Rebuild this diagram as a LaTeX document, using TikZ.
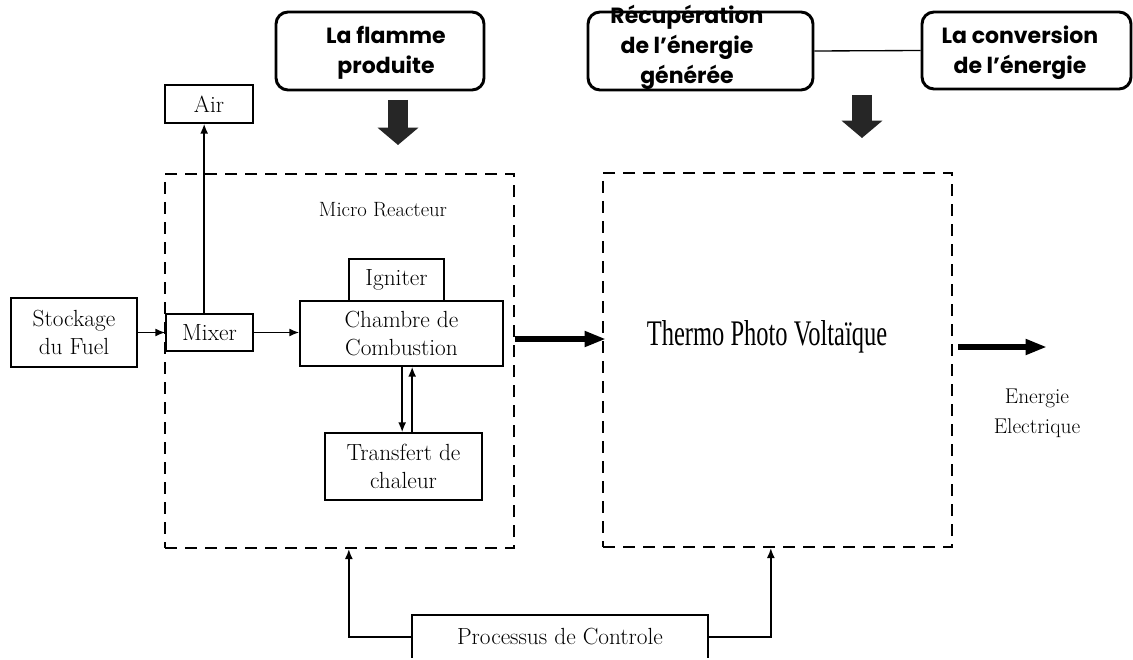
\documentclass[tikz,border=0pt]{standalone}
\usepackage{fontspec}
\usetikzlibrary{arrows.meta,calc}
\newfontfamily\geofont{Poppins}
\newfontfamily\tpvfont{Liberation Serif}
\tikzset{
  sbox/.style={draw, line width=1pt, align=center, inner sep=0pt,
    font=\fontsize{17.5}{21.5}\selectfont},
  rbox/.style={draw, line width=2.2pt, rounded corners=9pt, inner sep=0pt},
  rtext/.style={align=center, font=\geofont\bfseries\fontsize{16.5}{22.5}\selectfont},
  dbox/.style={draw, line width=1.5pt, dash pattern=on 9pt off 6pt, inner sep=0pt},
  arr/.style={line width=1.3pt, -{Latex[length=7.5pt,width=6pt]}},
  thick arr/.style={line width=5pt, -{Triangle[length=16pt,width=11pt]}},
  block arr/.style={line width=15pt, color=black!85, -{Triangle[length=13pt,width=30pt]}},
  plain/.style={align=center, font=\fontsize{15.5}{22}\selectfont}
}
\begin{document}
\begin{tikzpicture}[x=0.75pt,y=-0.75pt]
\useasboundingbox (0,0) rectangle (1133,660);
\clip (0,0) rectangle (1133,657);
% top rounded boxes
\node[rbox, minimum width=208*0.75pt, minimum height=78*0.75pt] (flamme) at (380,51) {};
\node[rtext] (flammet) at (386,53) {La flamme\\produite};
\node[rtext] (recupt) at (687,47) {Récupération\\de l’énergie\\générée};
\node[rbox, minimum width=225*0.75pt, minimum height=78*0.75pt] (recup) at (700.5,51) {};
\node[rbox, minimum width=209*0.75pt, minimum height=77*0.75pt] (conv) at (1026.5,50.5) {};
\node[rtext] (convt) at (1020,53) {La conversion\\de l’énergie};
\draw[line width=1pt] (recup.east) -- (conv.west);
% block arrows
\coordinate (fa1) at (398,100);
\coordinate (fa2) at (398,145);
\draw[block arr] (fa1) -- (fa2);
\coordinate (ca1) at (862,95);
\coordinate (ca2) at (862,138);
\draw[block arr] (ca1) -- (ca2);
% dashed boxes
\node[dbox, minimum width=349*0.75pt, minimum height=374*0.75pt] (reactor) at (339.5,361) {};
\node[dbox, minimum width=349*0.75pt, minimum height=374*0.75pt] (tpv) at (777.5,360) {};
\node[plain] (mrt) at (383,210) {Micro Reacteur};
\node[font=\tpvfont\fontsize{27}{30}\selectfont] (tpvt) at (767,337) {\scalebox{0.68}[1]{Thermo Photo Voltaïque}};
% inner boxes
\node[sbox, minimum width=126*0.75pt, minimum height=69*0.75pt, fill=white] (stock) at (74,332.5) {Stockage\\du Fuel};
\node[sbox, minimum width=87*0.75pt, minimum height=37*0.75pt, fill=white] (mixer) at (209.5,332.5) {Mixer};
\node[sbox, minimum width=88*0.75pt, minimum height=38*0.75pt] (air) at (209,104) {Air};
\node[sbox, minimum width=95*0.75pt, minimum height=42*0.75pt] (igniter) at (396.5,280) {Igniter};
\node[sbox, minimum width=203*0.75pt, minimum height=65*0.75pt, fill=white] (chambre) at (401.5,333.5) {Chambre de\\Combustion};
\node[sbox, minimum width=157*0.75pt, minimum height=67*0.75pt] (transfert) at (403.5,466.5) {Transfert de\\chaleur};
\node[sbox, minimum width=296*0.75pt, minimum height=44*0.75pt] (proc) at (560,637) {Processus de Controle};
% connectors
\draw[arr] (stock.east) -- (mixer.west);
\draw[arr] ([xshift=-4pt]mixer.north) -- ([xshift=-4pt]mixer.north |- air.south);
\draw[arr] (mixer.east) -- (mixer.east -| chambre.west);
\draw[arr] ([xshift=0.5pt]chambre.south) -- ([xshift=0.5pt]chambre.south |- transfert.north);
\draw[arr] ([xshift=8pt]transfert.north -| chambre.south) -- ([xshift=8pt]chambre.south);
\coordinate (th) at (0,339);
\draw[thick arr] (reactor.east |- th) -- ([xshift=3pt]tpv.west |- th);
\coordinate (eout) at (1047,347);
\draw[thick arr] ([xshift=4pt]tpv.east |- eout) -- (eout);
\node[plain, font=\fontsize{16}{22.5}\selectfont] (energie) at (1037,413) {Energie\\Electrique};
\draw[arr] (proc.west) -| ([xshift=7pt]reactor.south);
\draw[arr] (proc.east) -| ([xshift=-5pt]tpv.south);
\end{tikzpicture}
\end{document}
